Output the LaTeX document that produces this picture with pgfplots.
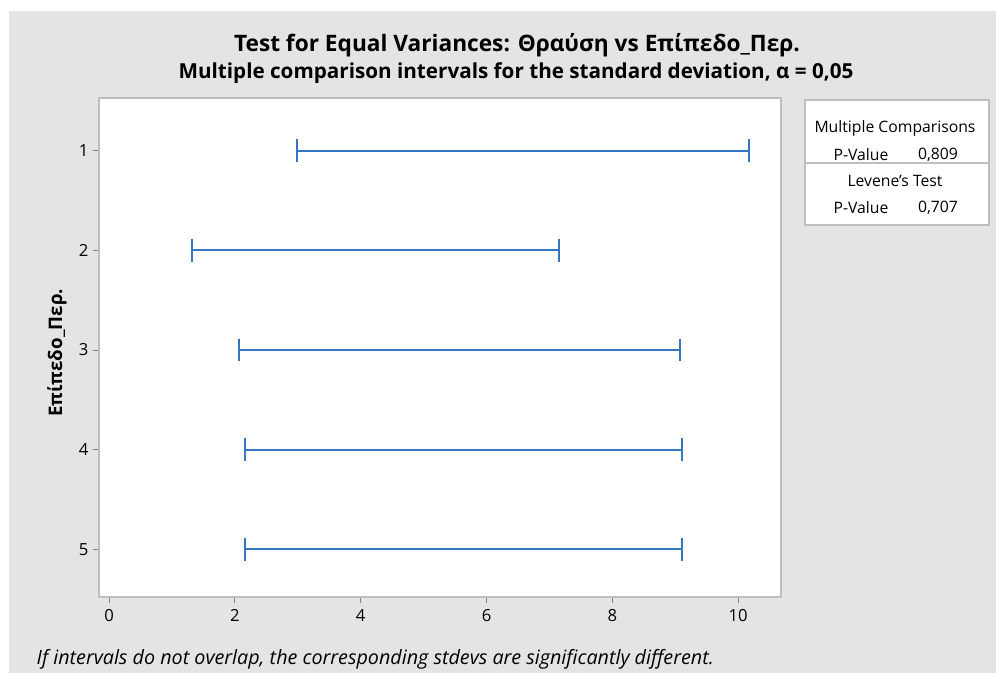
\documentclass[border=0pt]{standalone}
\usepackage{fontspec}
\setmainfont{Open Sans}
\usepackage{pgfplots}
\pgfplotsset{compat=1.18}
\definecolor{bggray}{RGB}{228,228,228}
\definecolor{framegray}{RGB}{190,190,190}
\definecolor{ciblue}{RGB}{52,118,194}
\begin{document}
\begin{tikzpicture}[x=0.75pt,y=0.75pt]
% background (image pixels, y measured from bottom)
\fill[white] (0,0) rectangle (996,673);
\fill[bggray] (9,0) rectangle (996,662);
\node[font=\bfseries\fontsize{17}{19}\selectfont] at (517,628) {Test for Equal Variances: Θραύση vs Επίπεδο\_Περ.};
\node[font=\bfseries\fontsize{15.5}{18}\selectfont] at (516,600) {Multiple comparison intervals for the standard deviation, α = 0,05};
\node[rotate=90,font=\bfseries\fontsize{14}{17}\selectfont] at (57,320) {Επίπεδο\_Περ.};
\node[anchor=west,font=\itshape\fontsize{14.8}{17}\selectfont] at (32,14) {If intervals do not overlap, the corresponding stdevs are significantly different.};

\begin{axis}[
  at={(74.25pt,57pt)}, anchor=south west,
  scale only axis, width=511.5pt, height=374.25pt,
  xmin=-0.16, xmax=10.68, ymin=0.47, ymax=5.48, y dir=reverse,
  xtick={0,2,4,6,8,10}, ytick={1,2,3,4,5},
  xtick pos=bottom, ytick pos=left, tick align=outside,
  major tick length=4.5pt,
  tick style={draw=gray, line width=0.6pt},
  axis line style={draw=framegray, line width=1.4pt},
  axis background/.style={fill=white},
  ticklabel style={font=\fontsize{12.5}{14}\selectfont},
  /pgf/number format/assume math mode=true,
  xticklabel style={yshift=-1pt},
  clip=false,
]
% lower and upper ends of each interval
\addplot[ciblue, line width=1.5pt, mark=|, mark size=8.6pt] coordinates {(2.98,1) (10.17,1)};
\addplot[ciblue, line width=1.5pt, mark=|, mark size=8.6pt] coordinates {(1.32,2) (7.15,2)};
\addplot[ciblue, line width=1.5pt, mark=|, mark size=8.6pt] coordinates {(2.07,3) (9.07,3)};
\addplot[ciblue, line width=1.5pt, mark=|, mark size=8.6pt] coordinates {(2.16,4) (9.11,4)};
\addplot[ciblue, line width=1.5pt, mark=|, mark size=8.6pt] coordinates {(2.16,5) (9.11,5)};
\end{axis}

% results box
\filldraw[fill=white, draw=framegray, line width=0.8pt] (805,448) rectangle (989,573);
\draw[framegray, line width=0.8pt] (805,510) -- (989,510);
\begin{scope}[every node/.style={font=\fontsize{11.8}{14}\selectfont}]
\node at (895,545) {Multiple Comparisons};
\node at (861,518) {P-Value};
\node at (938,518) {0,809};
\node at (895,492) {Levene’s Test};
\node at (861,465) {P-Value};
\node at (938,465) {0,707};
\end{scope}
\end{tikzpicture}
\end{document}
